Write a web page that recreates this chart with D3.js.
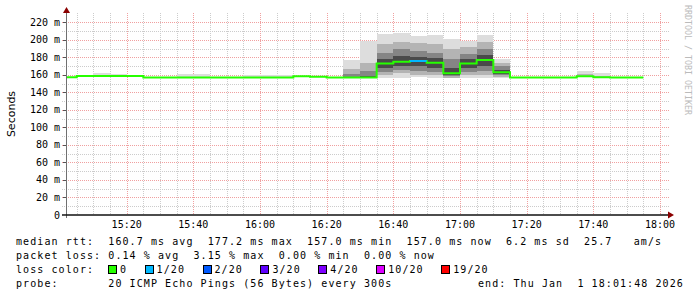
<!DOCTYPE html>
<html><head><meta charset="utf-8">
<script src="https://cdn.jsdelivr.net/npm/d3@7"></script>
<style>
html,body{margin:0;padding:0;background:#fff;}
svg{display:block;}
text{font-family:"DejaVu Sans Mono",monospace;}
</style></head>
<body>
<svg id="c" width="697" height="297"></svg>
<script>
// ---- data ----
const stepStarts = ["15:00","15:05","15:10","15:15","15:20","15:25","15:30","15:35","15:40","15:45","15:50","15:55",
  "16:00","16:05","16:10","16:15","16:20","16:25","16:30","16:35","16:40","16:45","16:50","16:55",
  "17:00","17:05","17:10","17:15","17:20","17:25","17:30","17:35","17:40","17:45","17:50"];
const median  = [157.5,158.8,158.8,158.8,158.8,157.2,157.0,157.0,157.0,157.0,157.0,157.0,157.0,157.0,158.5,158.0,157.0,157.0,157.0,173.0,175.0,176.0,174.0,162.0,173.0,177.2,163.0,157.0,157.0,157.0,157.0,158.5,157.5,157.0,157.0];
const pingMax = [158.2,159.4,162.0,161.5,159.5,157.8,157.5,161.5,161.0,158.0,158.0,160.5,160.0,159.5,159.0,158.5,157.5,177.0,199.0,207.0,208.0,204.0,206.0,201.0,199.0,206.0,178.0,157.5,157.5,157.5,157.5,165.0,162.0,157.5,157.5];
const pingMin = [157.0,158.3,158.3,158.3,158.3,156.8,156.7,156.7,156.7,156.7,156.7,156.7,156.7,156.7,158.0,157.5,156.7,156.5,156.5,157.0,157.0,158.0,157.0,156.5,157.0,157.0,157.0,156.7,156.7,156.7,156.7,158.0,157.0,156.7,156.7];
const p90     = [157.5,158.8,159.5,159.5,158.8,157.2,157.0,158.0,158.0,157.0,157.0,158.0,158.0,157.5,158.5,158.0,157.0,167.0,174.0,195.0,198.0,196.0,195.0,190.0,192.0,198.0,174.0,157.0,157.0,157.0,157.0,161.0,159.0,157.0,157.0];
const p10     = [157.5,158.8,158.8,158.8,158.8,157.2,157.0,157.0,157.0,157.0,157.0,157.0,157.0,157.0,158.5,158.0,157.0,157.0,157.0,160.0,162.0,160.0,160.0,157.0,160.0,160.0,158.0,157.0,157.0,157.0,157.0,158.5,157.5,157.0,157.0];
const p75     = [157.5,158.8,158.8,158.8,158.8,157.2,157.0,157.0,157.0,157.0,157.0,157.0,157.0,157.0,158.5,158.0,157.0,161.0,164.0,185.0,190.0,187.0,185.0,178.0,184.0,190.0,170.0,157.0,157.0,157.0,157.0,158.5,157.5,157.0,157.0];
const p25     = [157.5,158.8,158.8,158.8,158.8,157.2,157.0,157.0,157.0,157.0,157.0,157.0,157.0,157.0,158.5,158.0,157.0,157.0,157.0,163.0,166.0,165.0,163.0,159.0,163.0,165.0,160.0,157.0,157.0,157.0,157.0,158.5,157.5,157.0,157.0];
const p60     = [157.5,158.8,158.8,158.8,158.8,157.2,157.0,157.0,157.0,157.0,157.0,157.0,157.0,157.0,158.5,158.0,157.0,157.5,158.5,178.0,182.0,180.0,179.0,168.0,178.0,183.0,166.0,157.0,157.0,157.0,157.0,158.5,157.5,157.0,157.0];
const p40     = [157.5,158.8,158.8,158.8,158.8,157.2,157.0,157.0,157.0,157.0,157.0,157.0,157.0,157.0,158.5,158.0,157.0,157.0,157.0,168.0,170.0,170.0,168.0,160.0,168.0,170.0,161.0,157.0,157.0,157.0,157.0,158.5,157.5,157.0,157.0];
const lossPings = [0,0,0,0,0,0,0,0,0,0,0,0,0,0,0,0,0,0,0,0,0,1,0,0,0,0,0,0,0,0,0,0,0,0,0];

const yTickValues = [0,20,40,60,80,100,120,140,160,180,200,220];
const xTickLabels = ["15:20","15:40","16:00","16:20","16:40","17:00","17:20","17:40","18:00"];
const lossLabels = ["0","1/20","2/20","3/20","4/20","10/20","19/20"];
const lossThresholds = [0,1,2,3,4,10,19];
const lossColors = ["#26ff00","#00b8ff","#0059ff","#5e00ff","#7e00ff","#dd00ff","#ff0000"];
const rttStats = ["160.7 ms avg","177.2 ms max","157.0 ms min","157.0 ms now","6.2 ms sd","25.7   am/s"];
const lossStats = ["0.14 % avg","3.15 % max","0.00 % min","0.00 % now"];
const probeText = "20 ICMP Echo Pings (56 Bytes) every 300s";
const endText = "end: Thu Jan  1 18:01:48 2026";

// ---- layout ----
const L = 66, R = 666, T = 15, B = 215;
const svg = d3.select("#c");
const tp = s => { const [h,m] = s.split(":").map(Number); return new Date(2026,0,1,h,m,0); };
const t0 = new Date(2026,0,1,15,1,48), t1 = new Date(2026,0,1,18,1,48);
const x = d3.scaleTime().domain([t0,t1]).range([L,R]);
const y = d3.scaleLinear().domain([0,228.57]).range([B,T]);

svg.append("rect").attr("width",697).attr("height",297).attr("fill","#fff");

// grid
const g = svg.append("g").attr("shape-rendering","crispEdges");
const minorX = d3.timeMinute.every(5).range(t0,t1).filter(d=>d.getMinutes()%20!==0);
const majorX = d3.timeMinute.every(20).range(t0,t1);
g.selectAll(".vx").data(minorX).join("line")
  .attr("x1",d=>Math.round(x(d))+0.5).attr("x2",d=>Math.round(x(d))+0.5).attr("y1",13).attr("y2",B)
  .attr("stroke","#cccccc").attr("stroke-dasharray","1,1");
const yMinor = d3.range(10,229,20);
g.selectAll(".hy").data(yMinor).join("line")
  .attr("x1",62).attr("x2",670).attr("y1",d=>Math.round(y(d))+0.5).attr("y2",d=>Math.round(y(d))+0.5)
  .attr("stroke","#cccccc").attr("stroke-dasharray","1,1");
g.selectAll(".vX").data(majorX).join("line")
  .attr("x1",d=>Math.round(x(d))+0.5).attr("x2",d=>Math.round(x(d))+0.5).attr("y1",13).attr("y2",B)
  .attr("stroke","#f0a0a0").attr("stroke-dasharray","1,1");
g.selectAll(".hY").data(yTickValues.filter(v=>v>0)).join("line")
  .attr("x1",62).attr("x2",670).attr("y1",d=>Math.round(y(d))+0.5).attr("y2",d=>Math.round(y(d))+0.5)
  .attr("stroke","#f0a0a0").attr("stroke-dasharray","1,1");

// smoke
svg.append("clipPath").attr("id","pc").append("rect").attr("x",L).attr("y",T).attr("width",R-L).attr("height",B-T);
const plot = svg.append("g").attr("clip-path","url(#pc)");
const steps = stepStarts.map((s,i)=>({t:tp(s), e:d3.timeMinute.offset(tp(s),5), i}));
const bands = [
  {lo:pingMin, hi:pingMax, c:"#dddddd"},
  {lo:p10, hi:p90, c:"#b4b4b4"},
  {lo:p25, hi:p75, c:"#858585"},
  {lo:p40, hi:p60, c:"#4a4a4a"}
];
bands.forEach(b=>{
  plot.append("g").attr("shape-rendering","crispEdges").selectAll("rect").data(steps).join("rect")
    .attr("x",d=>x(d.t)).attr("width",d=>x(d.e)-x(d.t))
    .attr("y",d=>y(b.hi[d.i])).attr("height",d=>Math.max(0,y(b.lo[d.i])-y(b.hi[d.i])))
    .attr("fill",b.c);
});

// median line
const pts = steps.map(d=>[d.t, median[d.i]]);
pts.push([steps[steps.length-1].e, median[median.length-1]]);
const line = d3.line().x(d=>x(d[0])).y(d=>y(d[1])).curve(d3.curveStepAfter);
plot.append("path").attr("d",line(pts)).attr("fill","none").attr("stroke",lossColors[0]).attr("stroke-width",2);
const colorFor = n => { let c = lossColors[0]; lossThresholds.forEach((t,k)=>{ if(n>=t) c = lossColors[k]; }); return c; };
plot.selectAll(".ls").data(steps.filter(d=>lossPings[d.i]>0)).join("line")
  .attr("x1",d=>x(d.t)).attr("x2",d=>x(d.e)).attr("y1",d=>y(median[d.i])).attr("y2",d=>y(median[d.i]))
  .attr("stroke",d=>colorFor(lossPings[d.i])).attr("stroke-width",2);

// axes
svg.append("line").attr("x1",L+0.5).attr("x2",L+0.5).attr("y1",B+3).attr("y2",11).attr("stroke","#707070").attr("stroke-width",1);
svg.append("line").attr("x1",62).attr("x2",669).attr("y1",B).attr("y2",B).attr("stroke","#111").attr("stroke-width",1.6);
svg.append("path").attr("d",`M${L+0.5-3.5},${13} L${L+0.5+3.5},${13} L${L+0.5},${7} Z`).attr("fill","#8b0000");
svg.append("path").attr("d",`M668,${B-3.5} L668,${B+3.5} L674,${B} Z`).attr("fill","#8b0000");
svg.selectAll(".yt").data(yTickValues).join("line").attr("x1",63).attr("x2",L).attr("y1",d=>Math.round(y(d))+0.5).attr("y2",d=>Math.round(y(d))+0.5).attr("stroke","#555").attr("shape-rendering","crispEdges");

// tick labels
svg.selectAll(".ytl").data(yTickValues).join("text")
  .attr("x",60).attr("y",d=>y(d)).attr("dy","0.35em").attr("text-anchor","end")
  .attr("font-size",10).attr("fill","#000").style("white-space","pre")
  .text(d=>d===0?"0":d+" m");
svg.selectAll(".xtl").data(xTickLabels).join("text")
  .attr("x",d=>x(tp(d))).attr("y",227.5).attr("text-anchor","middle")
  .attr("font-size",10).attr("fill","#000").text(d=>d);

// y axis title
svg.append("text").attr("transform","translate(14.5,114) rotate(-90)").attr("text-anchor","middle")
  .style("font-family","'DejaVu Sans',sans-serif").attr("font-size",11).attr("fill","#000").text("Seconds");
// credit
svg.append("text").attr("transform","translate(684.5,5) rotate(90)").attr("text-anchor","start")
  .attr("font-size",8.3).attr("fill","#bbbbbb").text("RRDTOOL / TOBI OETIKER");

// legend
const LS = 1.08;
const lg = svg.append("g").attr("font-size",10).attr("fill","#000").style("letter-spacing",LS+"px").style("white-space","pre");
lg.append("text").attr("x",16).attr("y",245).attr("xml:space","preserve").text("median rtt:  " + rttStats.join("  "));
lg.append("text").attr("x",16).attr("y",259).attr("xml:space","preserve").text("packet loss: " + lossStats.join("  "));
lg.append("text").attr("x",16).attr("y",273).attr("xml:space","preserve").text("loss color:");
let bx = 108;
lossLabels.forEach((lab,k)=>{
  svg.append("rect").attr("x",bx+0.5).attr("y",265.5).attr("width",8).attr("height",8)
    .attr("fill",lossColors[k]).attr("stroke","#000").attr("stroke-width",1).attr("shape-rendering","crispEdges");
  lg.append("text").attr("x",bx+12).attr("y",273).text(lab);
  bx += 12 + lab.length*7.1 + 17.5;
});
lg.append("text").attr("x",16).attr("y",287).attr("xml:space","preserve").text("probe:       " + probeText);
lg.append("text").attr("x",478).attr("y",287).attr("xml:space","preserve").text(endText);
</script>
</body></html>
